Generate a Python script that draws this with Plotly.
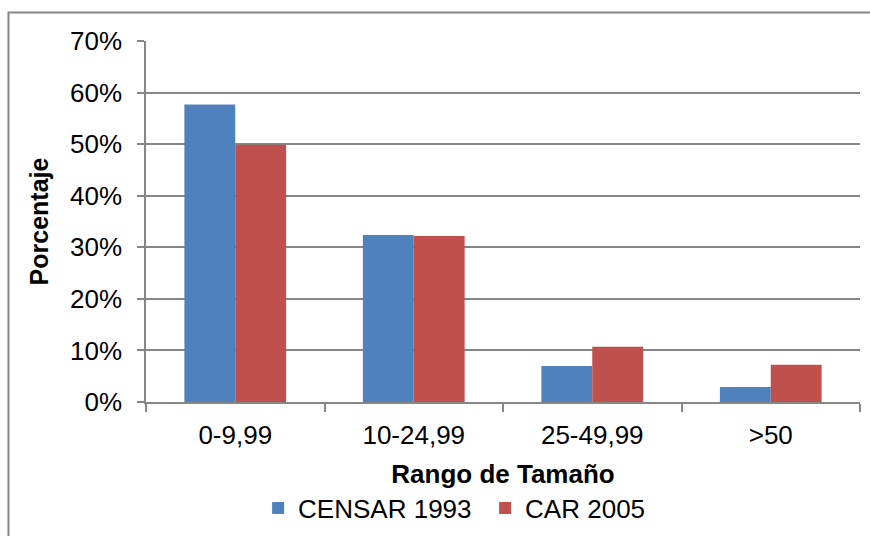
import plotly.graph_objects as go

categories = ["0-9,99", "10-24,99", "25-49,99", ">50"]
censar_1993 = [0.577, 0.324, 0.070, 0.029]
car_2005 = [0.499, 0.322, 0.107, 0.072]
series_names = ["CENSAR 1993", "CAR 2005"]
colors = ["#4F81BD", "#C0504D"]

FONT = "Liberation Sans, Arial, sans-serif"
GRID = "#868686"

fig = go.Figure()
fig.add_trace(go.Bar(x=categories, y=censar_1993, name=series_names[0],
                     marker=dict(color=colors[0], line=dict(width=0))))
fig.add_trace(go.Bar(x=categories, y=car_2005, name=series_names[1],
                     marker=dict(color=colors[1], line=dict(width=0))))

fig.update_layout(
    width=870, height=536,
    margin=dict(l=146, r=10, t=41, b=134, autoexpand=False),
    paper_bgcolor="white", plot_bgcolor="white",
    font=dict(family=FONT, size=26, color="black"),
    barmode="group", bargap=0.43, bargroupgap=0,
    showlegend=True,
    legend=dict(orientation="h", x=0.157, xanchor="left", y=-0.229, yanchor="top",
                font=dict(size=26), itemwidth=30, tracegroupgap=0,
                entrywidth=182, entrywidthmode="pixels",
                bgcolor="rgba(0,0,0,0)"),
    shapes=[dict(type="rect", xref="paper", yref="paper",
                 x0=-0.1926, x1=1.2, y0=-0.6, y1=1.079,
                 line=dict(color=GRID, width=2), fillcolor="rgba(0,0,0,0)",
                 layer="below")],
)

fig.update_xaxes(
    type="category", showgrid=False, showline=True, linecolor=GRID, linewidth=1.5,
    ticks="outside", tickson="boundaries", ticklen=8, tickcolor=GRID, tickwidth=1.5,
    tickfont=dict(size=26), ticklabelstandoff=9,
    title=dict(text="<b>Rango de Tamaño</b>", font=dict(size=26), standoff=16),
    automargin=False,
)
fig.update_yaxes(
    range=[0, 0.7], dtick=0.1, tickformat=".0%",
    showgrid=True, gridcolor=GRID, gridwidth=1.5,
    showline=True, linecolor=GRID, linewidth=1.5,
    ticks="outside", ticklen=7, tickcolor=GRID, tickwidth=1.5,
    tickfont=dict(size=26), ticklabelstandoff=10,
    title=dict(text="<b>Porcentaje</b>", font=dict(size=25), standoff=14),
    zeroline=False, automargin=False,
)

fig.write_html("out.html", config={"displayModeBar": False},
               post_script="document.body.style.margin='0';")
